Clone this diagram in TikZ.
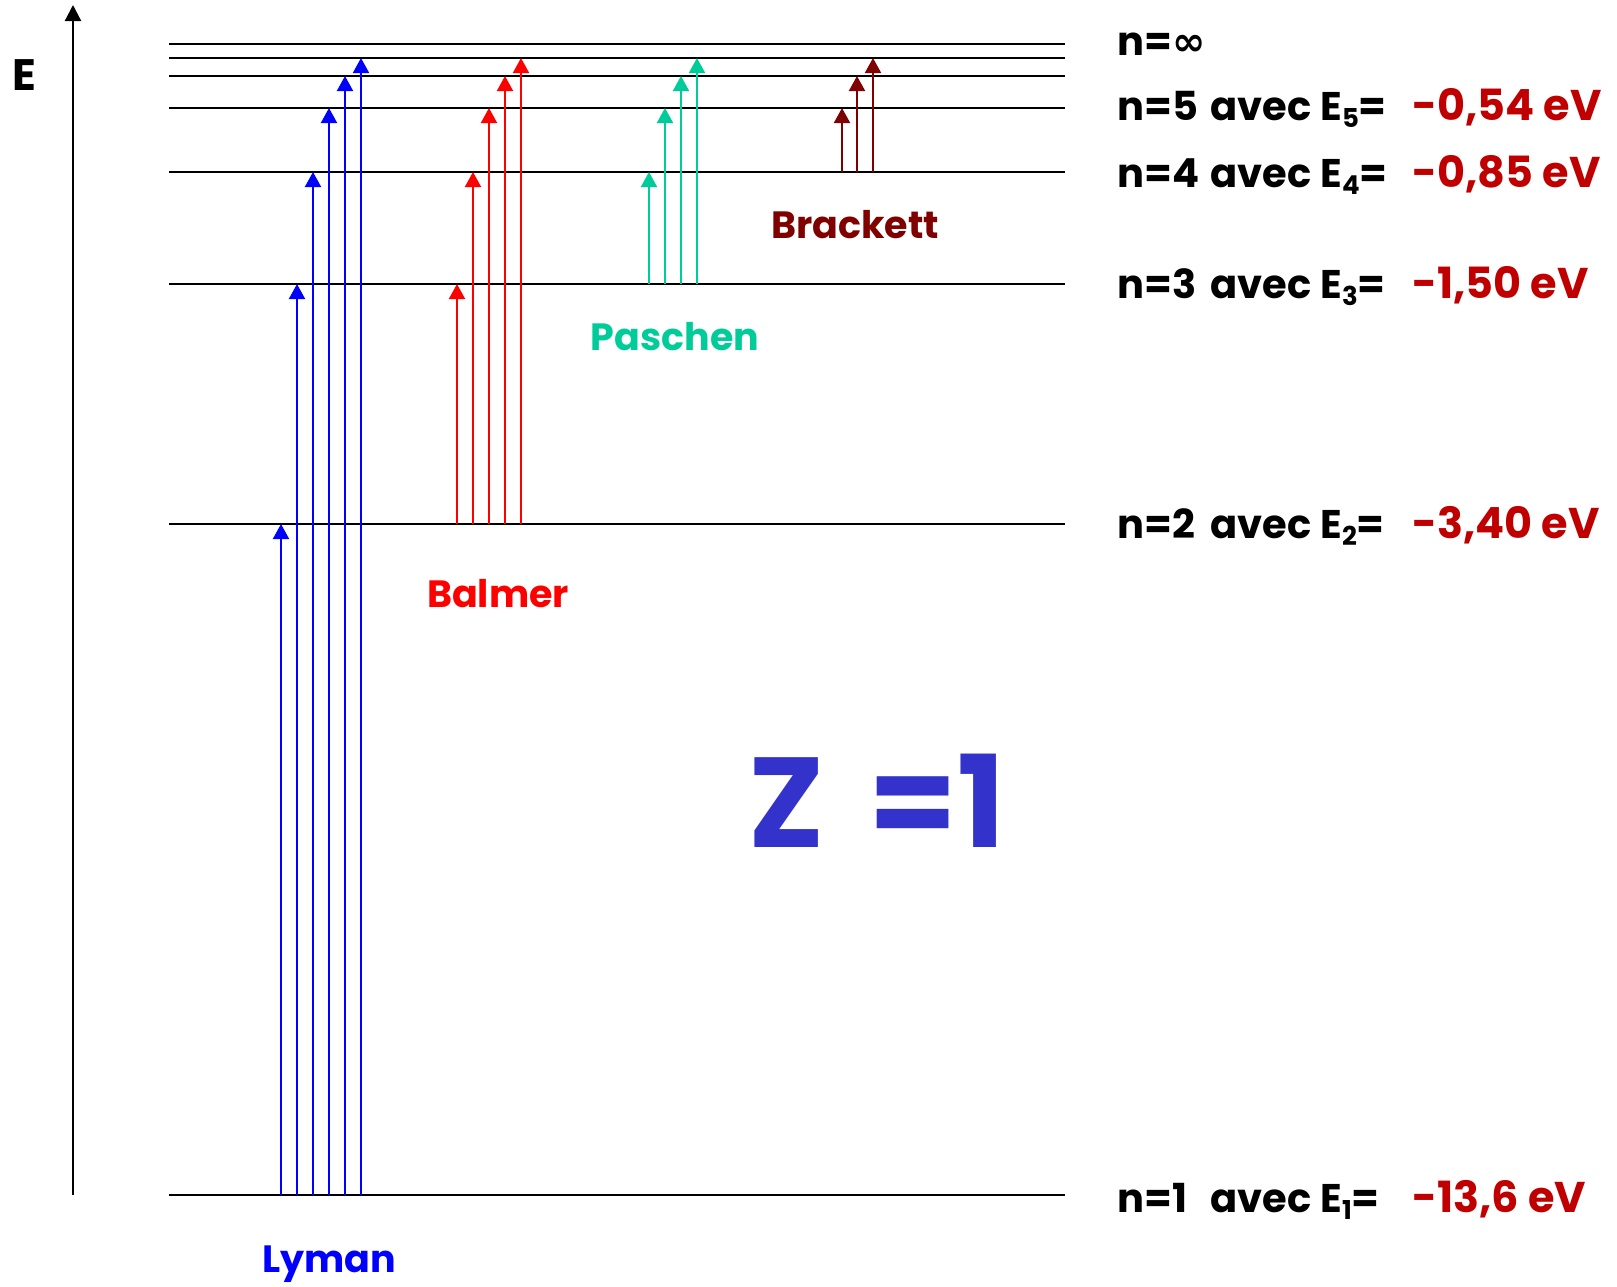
\documentclass[tikz,border=0pt]{standalone}
\usepackage{fontspec}
\setmainfont{Poppins}
\newfontfamily\symfont{DejaVu Sans}
\usetikzlibrary{arrows.meta}
\definecolor{lymanc}{RGB}{0,0,255}
\definecolor{balmerc}{RGB}{255,0,0}
\definecolor{paschenc}{RGB}{0,204,153}
\definecolor{brackettc}{RGB}{128,0,0}
\definecolor{valc}{RGB}{192,0,0}
\definecolor{zc}{RGB}{51,51,204}
\newcommand{\esub}[1]{E\raisebox{-0.35ex}{\fontsize{13}{13}\selectfont #1}}
\newcommand{\lvl}[3]{\makebox[46.5pt][l]{n=#1}\makebox[55pt][l]{avec}\makebox[46pt][l]{\esub{#2}=}\textcolor{valc}{\fontsize{21.5}{21.5}\selectfont #3}}
\begin{document}
\begin{tikzpicture}[x=0.5pt,y=-0.5pt,
  levelline/.style={line width=0.8pt},
  trans/.style={line width=1pt,-{Triangle[width=8pt,length=7.5pt]}},
  lab/.style={anchor=base west,inner sep=0pt,font=\fontsize{20}{20}\selectfont\bfseries},
  serie/.style={anchor=base,inner sep=0pt,font=\fontsize{19}{19}\selectfont\bfseries},
  zstyle/.style={anchor=base,inner sep=0pt,text=zc,font=\fontsize{64}{64}\selectfont\bfseries}]
\useasboundingbox (0,0) rectangle (1617,1286);
% axis
\coordinate (axbot) at (73,1195);
\coordinate (axtop) at (73,5);
\draw[line width=1.1pt,-{Triangle[width=8pt,length=8pt]}] (axbot) -- (axtop);
\node[anchor=base,inner sep=0pt,font=\fontsize{22}{22}\selectfont\bfseries] (E) at (24,90) {E};
% levels
\foreach \n/\y in {1/1195,2/524,3/284,4/172,5/108,6/76,7/58,inf/44}{
  \draw[levelline] (169,\y) coordinate (L\n w) -- (1065,\y) coordinate (L\n e);
}
% Lyman
\foreach \x/\t in {281/524,297/284,313/172,329/108,345/76,361/58}
  \draw[trans,lymanc] (\x,1195) -- (\x,\t);
% Balmer
\foreach \x/\t in {457/284,473/172,489/108,505/76,521/58}
  \draw[trans,balmerc] (\x,524) -- (\x,\t);
% Paschen
\foreach \x/\t in {649/172,665/108,681/76,697/58}
  \draw[trans,paschenc] (\x,284) -- (\x,\t);
% Brackett
\foreach \x/\t in {842/108,857/76,873/58}
  \draw[trans,brackettc] (\x,172) -- (\x,\t);
% series names
\node[serie,text=lymanc] (lyman) at (329,1272) {Lyman};
\node[serie,text=balmerc] (balmer) at (498,607) {Balmer};
\node[serie,text=paschenc] (paschen) at (675,350) {Paschen};
\node[serie,text=brackettc] (brackett) at (855,238) {Brackett};
% Z = 1
\node[zstyle] (Zz) at (787,847) {Z};
\node[zstyle] (Zeq) at (913,847) {=};
\node[zstyle] (Zone) at (982,847) {1};
% level labels
\node[lab] (tinf) at (1117,55) {n={\symfont ∞}};
\node[lab] (t5) at (1117,120) {\lvl{5}{5}{-0,54 eV}};
\node[lab] (t4) at (1117,187) {\lvl{4}{4}{-0,85 eV}};
\node[lab] (t3) at (1117,298) {\lvl{3}{3}{-1,50 eV}};
\node[lab] (t2) at (1117,538) {\lvl{2}{2}{-3,40 eV}};
\node[lab] (t1) at (1117,1212) {\lvl{1}{1}{-13,6 eV}};
\end{tikzpicture}
\end{document}
